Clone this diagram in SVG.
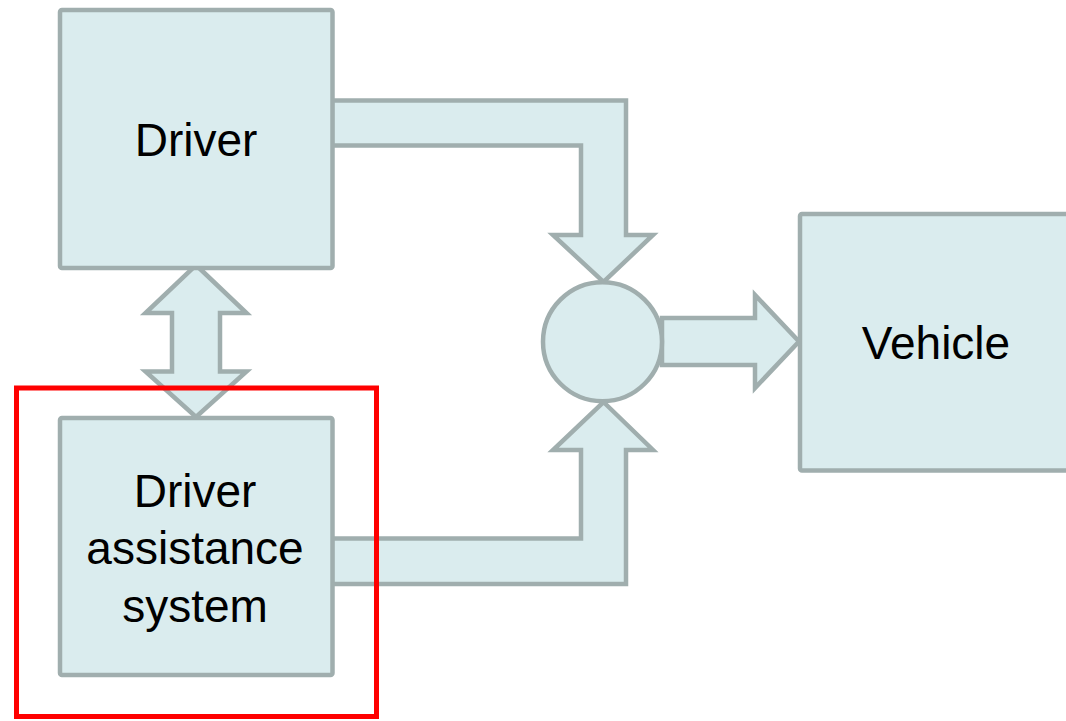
<svg xmlns="http://www.w3.org/2000/svg" width="1066" height="721" viewBox="0 0 1066 721">
<style>
.shape{fill:#daecee;stroke:#a0aeae;stroke-width:4.5;stroke-linejoin:miter}
.lbl{font-family:"Liberation Sans",Arial,sans-serif;font-size:46px;fill:#000;text-anchor:middle}
</style>
<rect width="1066" height="721" fill="#fff"/>
<g id="connectors">
<polygon class="shape" points="332,100.5 626,100.5 626,235 653,235 603.5,282 553,235 581,235 581,145.5 332,145.5"/>
<polygon class="shape" points="332,584 626,584 626,450 653,450 603.5,402 553,450 581,450 581,538.5 332,538.5"/>
<polygon class="shape" points="662,318 755,318 755,295 799,341.5 755,388 755,365 662,365"/>
<polygon class="shape" points="196,265 246.5,313 220,313 220,371.5 246.5,371.5 196,417 145.5,371.5 172,371.5 172,313 145.5,313"/>
</g>
<g id="driver">
<rect class="shape" x="60" y="10" width="272.5" height="258" rx="2"/>
<text class="lbl" x="196" y="156">Driver</text>
</g>
<g id="das">
<rect class="shape" x="60" y="418" width="272.5" height="257" rx="2"/>
<text class="lbl" x="195" y="507">Driver</text>
<text class="lbl" x="195" y="564">assistance</text>
<text class="lbl" x="195" y="622">system</text>
</g>
<g id="sum">
<circle class="shape" cx="602.5" cy="341.7" r="59.5"/>
</g>
<g id="vehicle">
<rect class="shape" x="800" y="214" width="300" height="256.5" rx="2"/>
<text class="lbl" x="936" y="359">Vehicle</text>
</g>
<g id="highlight">
<rect x="16.5" y="388" width="360" height="328.5" fill="none" stroke="#ff0000" stroke-width="5"/>
</g>
</svg>
